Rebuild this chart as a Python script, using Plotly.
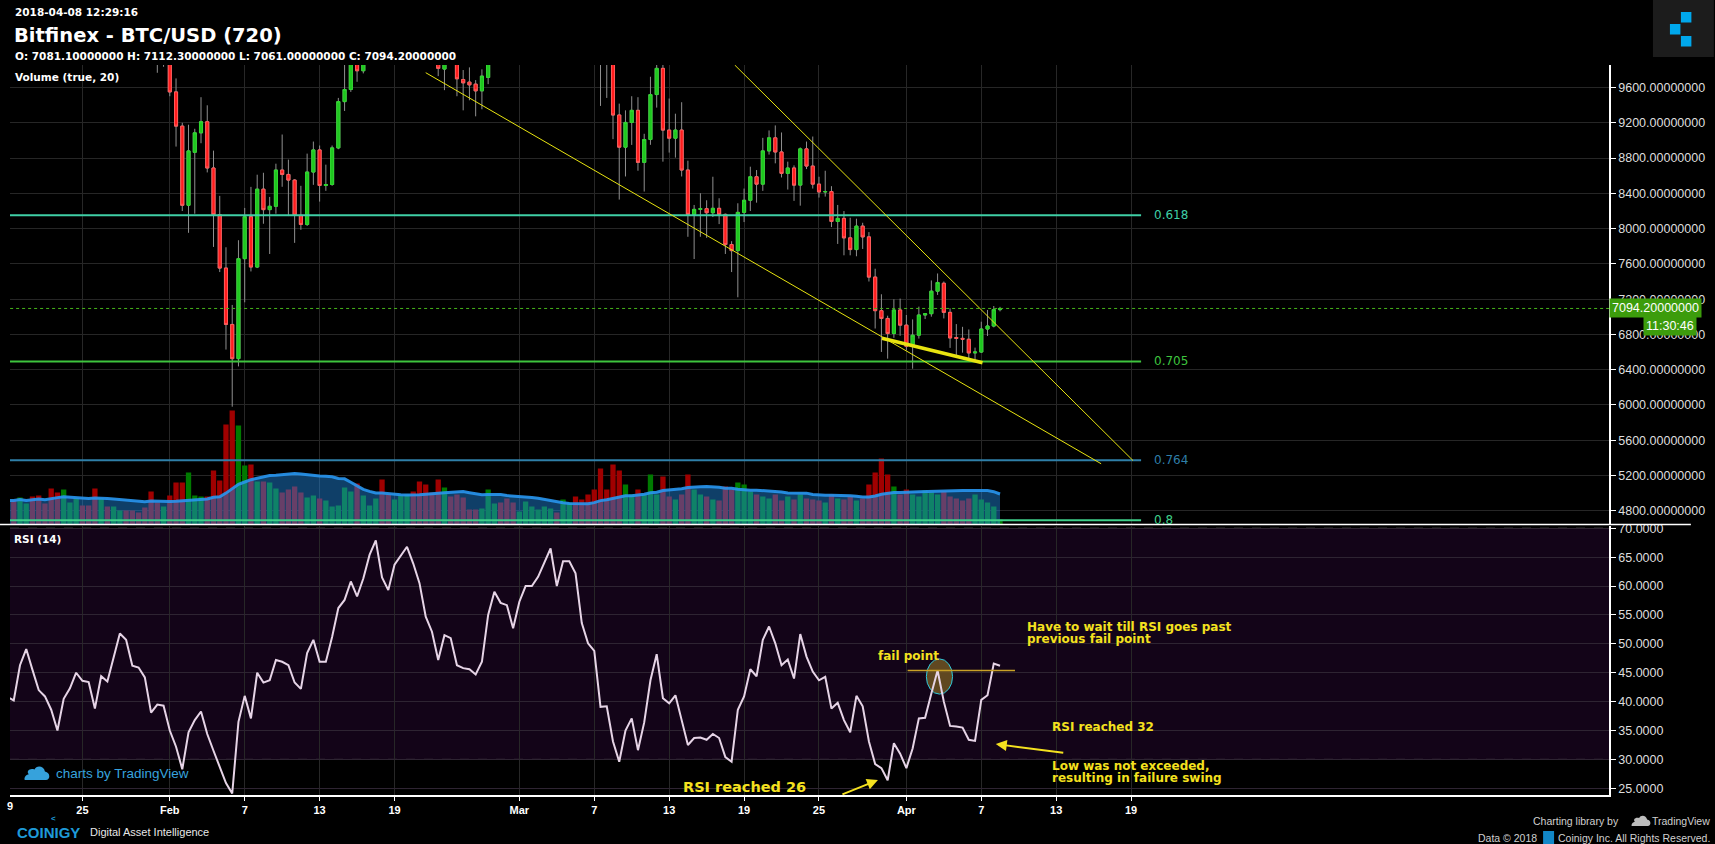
import plotly.graph_objects as go
import pandas as pd

# ------------------------------------------------------------------ data
T0 = pd.Timestamp("2018-02-01 00:00:00")   # candle index k counts 12h bars from here

candle_k = [-2, -1] + list(range(0, 32)) + [43, 44, 46, 47, 48, 49, 50, 51] + list(range(69, 134))
candle_open = [10250, 10100,
    10200, 9550, 9162, 8264, 8865, 9086, 9212, 8687, 8157, 7552,
    6913, 6525, 7659, 8135, 7564, 8447, 8215, 8253, 8664, 8614,
    8550, 8150, 8047, 8641, 8892, 8489, 8500, 8915, 9440, 9577,
    10150, 9790,
    10100, 9809, 10050, 9691, 9661, 9638, 9562, 9714,
    10300, 10100, 9900, 9288, 8923, 9204, 9341, 8751, 9010, 9520,
    9817, 9117, 9025, 9117, 8664, 8161, 8218, 8226, 8180, 8230,
    8161, 7819, 7750, 8184, 8321, 8588, 8504, 8881, 9029, 8869,
    8626, 8687, 8493, 8904, 8709, 8504, 8416, 8420, 8081, 8116,
    7895, 7762, 8028, 7906, 7450, 7069, 6981, 6810, 7077, 6905,
    6666, 6791, 7020, 7035, 7290, 7380, 7050, 6765, 6755, 6745,
    6590, 6600, 6861, 6895, 7081.1]
candle_high = [10350, 10300,
    10250, 9703, 9200, 9178, 9132, 9490, 9398, 8884, 8371, 7788,
    7134, 7868, 8234, 8473, 8611, 8633, 8359, 8736, 9067, 8782,
    8560, 8485, 8850, 8987, 8942, 8725, 8942, 9482, 9900, 10100,
    10250, 10150,
    10200, 10000, 10150, 9798, 9828, 9684, 9806, 10000,
    10500, 10200, 9950, 9417, 9341, 9501, 9490, 9075, 9722, 9860,
    9870, 9475, 9303, 9433, 8770, 8268, 8401, 8321, 8588, 8344,
    8170, 7857, 8287, 8454, 8702, 8664, 9029, 9113, 9170, 9090,
    8759, 8717, 8920, 8987, 9044, 8588, 8656, 8481, 8268, 8199,
    8123, 8112, 8066, 7960, 7545, 7255, 7012, 7198, 7206, 7020,
    6970, 7115, 7039, 7412, 7491, 7400, 7096, 6917, 6886, 6856,
    6650, 6944, 7077, 7122, 7112.3]
candle_low = [9767, 9835,
    9501, 8930, 8199, 7952, 8169, 8968, 8637, 7792, 7507, 6628,
    5980, 6437, 7164, 7514, 7552, 8055, 7712, 8169, 8474, 8142,
    7838, 7986, 8030, 8496, 8306, 8428, 8485, 8900, 9334, 9550,
    9665, 9760,
    9729, 9570, 9501, 9341, 9455, 9273, 9353, 9638,
    9391, 9482, 9014, 8329, 8591, 8949, 8656, 8420, 8950, 9372,
    8759, 8862, 8805, 8591, 7907, 7655, 7907, 7895, 8131, 8051,
    7712, 7507, 7221, 8074, 8199, 8294, 8428, 8839, 8740, 8580,
    8443, 8314, 8260, 8675, 8454, 8352, 8363, 8017, 7826, 7697,
    7697, 7686, 7769, 7400, 6867, 6601, 6525, 6761, 6784, 6620,
    6411, 6753, 6974, 7001, 7248, 6981, 6647, 6544, 6593, 6506,
    6498, 6590, 6782, 6880, 7061.0]
candle_close = [10100, 10200,
    9550, 9162, 8264, 8881, 9086, 9212, 8687, 8157, 7552, 6913,
    6525, 7659, 8135, 7564, 8447, 8215, 8253, 8664, 8614, 8550,
    8150, 8047, 8641, 8892, 8489, 8500, 8915, 9440, 9577, 10000,
    9790, 10050,
    9817, 9900, 9699, 9653, 9630, 9562, 9729, 9950,
    9950, 9900, 9288, 8923, 9204, 9341, 8751, 9010, 9520, 9817,
    9117, 9025, 9117, 8664, 8161, 8218, 8226, 8180, 8230, 8161,
    7819, 7750, 8184, 8321, 8588, 8504, 8881, 9029, 8869, 8626,
    8687, 8493, 8904, 8709, 8504, 8416, 8420, 8081, 8116, 7895,
    7762, 8028, 7906, 7450, 7069, 6981, 6810, 7077, 6905, 6666,
    6791, 7020, 7035, 7290, 7389, 7050, 6760, 6755, 6745, 6590,
    6600, 6861, 6895, 7081.1, 7094.2]

series_first_k = -26          # RSI and volume start at this bar
rsi_values = [
    40.8, 40.2, 46.3, 49.1, 45.5, 42.0, 40.9, 38.6, 35.0, 40.5,
    42.3, 45.0, 43.6, 43.4, 38.8, 44.4, 43.5, 47.9, 51.8, 50.7,
    46.2, 45.9, 44.2, 38.1, 39.5, 39.3, 35.0, 32.2, 28.3, 34.7,
    36.8, 38.3, 34.4, 31.5, 28.6, 25.9, 24.1, 36.5, 41.0, 37.1,
    45.0, 43.3, 43.7, 47.2, 46.9, 46.3, 43.3, 42.2, 48.4, 50.7,
    46.9, 46.9, 51.2, 56.2, 57.6, 60.8, 58.2, 61.3, 65.4, 67.9,
    61.5, 59.3, 63.7, 65.2, 66.8, 63.9, 60.5, 54.7, 52.1, 47.2,
    51.5, 51.0, 46.3, 45.8, 45.6, 44.7, 46.9, 55.0, 59.0, 57.1,
    56.7, 52.7, 57.3, 60.0, 60.0, 61.6, 64.2, 66.5, 60.0, 64.3,
    64.3, 62.2, 53.6, 50.1, 48.8, 39.1, 39.2, 33.1, 29.6, 35.0,
    37.1, 31.6, 36.4, 43.7, 48.2, 40.6, 39.7, 41.1, 36.8, 32.5,
    33.7, 33.8, 33.4, 34.4, 33.7, 30.4, 29.6, 38.6, 40.9, 45.6,
    44.4, 50.7, 53.0, 50.1, 46.3, 47.3, 44.0, 51.7, 47.8, 45.2,
    43.7, 44.3, 38.8, 39.8, 36.8, 34.7, 41.0, 39.2, 33.1, 29.2,
    28.5, 26.4, 32.8, 31.0, 28.5, 31.9, 37.1, 37.2, 41.4, 45.4,
    40.0, 35.8, 35.7, 35.5, 33.4, 33.2, 40.3, 41.1, 46.6, 46.2]
volume_thousands = [
    24, 24, 27, 21, 28, 29, 21, 36, 32, 35,
    22, 26, 19, 19, 36, 26, 18, 18, 14, 14,
    14, 12, 17, 33, 22, 18, 29, 42, 42, 52,
    29, 28, 28, 54, 44, 100, 114, 99, 59, 60,
    43, 43, 42, 36, 32, 35, 38, 32, 27, 29,
    26, 24, 18, 19, 37, 33, 41, 29, 19, 26,
    45, 30, 25, 29, 30, 33, 43, 40, 32, 45,
    37, 28, 30, 27, 15, 15, 16, 35, 21, 22,
    26, 22, 13, 23, 18, 15, 18, 16, 12, 25,
    22, 28, 25, 30, 35, 56, 35, 60, 54, 40,
    30, 35, 30, 50, 30, 48, 28, 25, 30, 50,
    35, 30, 28, 25, 24, 38, 35, 42, 40, 33,
    30, 28, 26, 30, 24, 28, 25, 30, 26, 25,
    24, 22, 30, 26, 25, 28, 24, 26, 40, 52,
    66, 50, 38, 30, 35, 30, 28, 34, 32, 30,
    33, 28, 26, 24, 26, 30, 25, 22, 18, 5]

fib_levels = ["0.618", "0.705", "0.764", "0.8"]
fib_prices = [8150, 6493, 5372, 4692]
fib_colors = ["#3fcfa6", "#3ec43e", "#2f7fa8", "#3fcf8a"]

trend_lines = [  # (k0, price0, k1, price1, width)
    (41.0, 9768, 149.2, 5333, 1),
    (90.5, 9855, 154.3, 5370, 1),
    (114.1, 6756, 130.2, 6479, 3.5),
]
fail_line = (118.2, 135.4, 45.4)        # k0, k1, rsi level
fail_ellipse = (121.2, 125.4, 41.3, 47.4)

price_ticks = list(range(4800, 9601, 400))
rsi_ticks = list(range(25, 71, 5))
date_ticks = ["2018-01-25", "2018-02-01", "2018-02-07", "2018-02-13", "2018-02-19",
              "2018-03-01", "2018-03-07", "2018-03-13", "2018-03-19", "2018-03-25",
              "2018-04-01", "2018-04-07", "2018-04-13", "2018-04-19"]
date_tick_text = ["25", "Feb", "7", "13", "19", "Mar", "7", "13", "19", "25",
                  "Apr", "7", "13", "19"]

# ------------------------------------------------------------------ helpers
W, H = 1715, 844
ML, MR, MT, MB = 10, 104, 65, 49
PW, PH = W - ML - MR, H - MT - MB


def xp(px):
    return (px - ML) / PW


def yp(py):
    return (H - MB - py) / PH


def kd(k):
    return T0 + pd.Timedelta(hours=12 * k)


DV = "DejaVu Sans"
LS = "Liberation Sans"
YEL = "#f4e11f"

cx = [kd(k) for k in candle_k]
series_x = [kd(series_first_k + i) for i in range(len(rsi_values))]
volumes = [v * 1000 for v in volume_thousands]
vol_ma = pd.Series(volumes).rolling(20, min_periods=1).mean()

cmap = {k: (o, c) for k, o, c in zip(candle_k, candle_open, candle_close)}
vol_colors = []
for i in range(len(volumes)):
    k = series_first_k + i
    if k in cmap:
        up = cmap[k][1] >= cmap[k][0]
    else:
        up = i > 0 and rsi_values[i] >= rsi_values[i - 1]
    vol_colors.append("#007a00" if up else "#a00000")

fig = go.Figure()

fig.add_trace(go.Bar(x=series_x, y=volumes, marker=dict(color=vol_colors, line=dict(width=0)),
                     width=0.85 * 12 * 3600 * 1000, yaxis="y", hoverinfo="skip"))
fig.add_trace(go.Scatter(x=series_x, y=vol_ma, mode="lines", fill="tozeroy",
                         fillcolor="rgba(33,140,230,0.45)",
                         line=dict(color="rgba(40,150,240,0.9)", width=3), yaxis="y",
                         hoverinfo="skip"))

wick = dict(line=dict(color="#8f8f8f", width=1), fillcolor="rgba(0,0,0,0)")
fig.add_trace(go.Candlestick(x=cx, open=candle_open, high=candle_high, low=candle_low,
                             close=candle_close, increasing=wick, decreasing=wick,
                             yaxis="y2", hoverinfo="skip"))
fig.add_trace(go.Candlestick(
    x=cx, open=candle_open, close=candle_close,
    high=[max(o, c) for o, c in zip(candle_open, candle_close)],
    low=[min(o, c) for o, c in zip(candle_open, candle_close)],
    increasing=dict(line=dict(color="#2ed82e", width=1), fillcolor="#1ec61e"),
    decreasing=dict(line=dict(color="#ff5a5a", width=1), fillcolor="#ff1c1c"),
    yaxis="y2", hoverinfo="skip"))

ann = []

# fib retracement levels
for lvl, pr, col in zip(fib_levels, fib_prices, fib_colors):
    fig.add_trace(go.Scatter(x=[kd(-40), kd(155.6)], y=[pr, pr], mode="lines",
                             line=dict(color=col, width=2), yaxis="y2", hoverinfo="skip"))
    ann.append(dict(x=kd(157.3), y=pr, xref="x", yref="y2", text=lvl, showarrow=False,
                    xanchor="left", yanchor="middle", font=dict(family=DV, size=12, color=col)))

# trend lines
for k0, p0, k1, p1, wdt in trend_lines:
    fig.add_trace(go.Scatter(x=[kd(k0), kd(k1)], y=[p0, p1], mode="lines",
                             line=dict(color="#e8e410", width=wdt), yaxis="y2", hoverinfo="skip"))

# last price dotted line
last_close = candle_close[-1]
fig.add_trace(go.Scatter(x=[kd(-40), kd(260)], y=[last_close, last_close], mode="lines",
                         line=dict(color="#46b41a", width=1, dash="dot"), yaxis="y2",
                         hoverinfo="skip"))

# RSI
fig.add_trace(go.Scatter(x=series_x, y=rsi_values, mode="lines",
                         line=dict(color="#e6d4e6", width=2), yaxis="y3", hoverinfo="skip"))
fig.add_trace(go.Scatter(x=[kd(fail_line[0]), kd(fail_line[1])], y=[fail_line[2]] * 2,
                         mode="lines", line=dict(color="#c9a227", width=1.5), yaxis="y3",
                         hoverinfo="skip"))

shapes = []
shapes.append(dict(type="rect", xref="paper", yref="y3", x0=0, x1=1, y0=30, y1=70,
                   fillcolor="#130418", line=dict(width=0), layer="below"))
for lv in (30, 70):
    shapes.append(dict(type="line", xref="paper", yref="y3", x0=0, x1=1, y0=lv, y1=lv,
                       line=dict(color="#7a7a7a", width=1, dash="dash"), layer="between"))
e = fail_ellipse
shapes.append(dict(type="circle", xref="x", yref="y3", x0=kd(e[0]), x1=kd(e[1]), y0=e[2], y1=e[3],
                   fillcolor="rgba(110,85,35,0.85)", line=dict(color="#2ec8dc", width=1),
                   layer="between"))
shapes.append(dict(type="line", xref="paper", yref="paper", x0=xp(0), x1=xp(1693),
                   y0=yp(524.5), y1=yp(524.5), line=dict(color="white", width=1.5)))
# top-right logo
shapes.append(dict(type="rect", xref="paper", yref="paper", x0=xp(1655), x1=xp(1716),
                   y0=yp(57), y1=yp(-1), fillcolor="#1c1c1c", line=dict(width=0)))
for (a, b) in [(1683, 12), (1672, 24), (1683, 36)]:
    shapes.append(dict(type="rect", xref="paper", yref="paper", x0=xp(a), x1=xp(a + 10.5),
                       y0=yp(b + 10.5), y1=yp(b), fillcolor="#00a8ec", line=dict(width=0)))
# small coinigy icon in footer
shapes.append(dict(type="rect", xref="paper", yref="paper", x0=xp(1545), x1=xp(1556),
                   y0=yp(844), y1=yp(831), fillcolor="#1287c8", line=dict(width=0)))


def cloud_path(s):
    pts = "M 0,0 L 22,0 C 27,0 27,8 21,9 C 20,15 12,16 10,11 C 5,13 1,9 4,6 C -1,5 -1,0 0,0 Z"
    out = []
    for tok in pts.split():
        if "," in tok:
            a, b = tok.split(",")
            out.append(f"{float(a) * s:.2f},{float(b) * s:.2f}")
        else:
            out.append(tok)
    return " ".join(out)


shapes.append(dict(type="path", xref="paper", yref="paper", xsizemode="pixel", ysizemode="pixel",
                   xanchor=xp(25), yanchor=yp(780), path=cloud_path(0.95), fillcolor="#36a2dc",
                   line=dict(width=0)))
shapes.append(dict(type="path", xref="paper", yref="paper", xsizemode="pixel", ysizemode="pixel",
                   xanchor=xp(1634), yanchor=yp(826), path=cloud_path(0.72), fillcolor="#bdbdbd",
                   line=dict(width=0)))


def txt(text, x, y, size, color="white", family=DV, xanchor="left", yanchor="middle"):
    ann.append(dict(text=text, x=xp(x), y=yp(y), xref="paper", yref="paper", showarrow=False,
                    xanchor=xanchor, yanchor=yanchor, font=dict(family=family, size=size, color=color)))


txt("<b>2018-04-08 12:29:16</b>", 13, 12, 10.5)
txt("<b>Bitfinex - BTC/USD (720)</b>", 12, 35, 19.5)
txt("<b>O: 7081.10000000 H: 7112.30000000 L: 7061.00000000 C: 7094.20000000</b>", 13, 56, 10.5)
txt("<b>Volume (true, 20)</b>", 13, 77, 10.5)
txt("<b>RSI (14)</b>", 12, 539, 10.5)
txt("<b>9</b>", 5, 806, 11, family=LS)

txt("<b>fail point</b>", 877, 656, 12, YEL)
txt("<b>Have to wait till RSI goes past</b>", 1026, 627, 12, YEL)
txt("<b>previous fail point</b>", 1026, 639, 12, YEL)
txt("<b>RSI reached 32</b>", 1051, 727, 12, YEL)
txt("<b>Low was not exceeded,</b>", 1051, 766, 12, YEL)
txt("<b>resulting in failure swing</b>", 1051, 778, 12, YEL)
txt("<b>RSI reached 26</b>", 682, 787, 14.5, YEL)

for hx, hy, tx, ty in [(997, 744, 1066, 753), (879, 780, 842, 795)]:
    ann.append(dict(text="", x=xp(hx), y=yp(hy), xref="paper", yref="paper", showarrow=True,
                    ax=tx - hx, ay=ty - hy, arrowhead=2, arrowsize=1.1, arrowwidth=2,
                    arrowcolor=YEL))

txt("charts by TradingView", 54, 773, 13.5, "#37a3de", family=LS)
txt("<b>COINIGY</b>", 15, 832, 15, "#1e9ad8", family=LS)
txt("<b><</b>", 49, 818, 8, "#1e9ad8", family=LS)
txt("Digital Asset Intelligence", 88, 832, 11, "#e8e8e8", family=LS)
txt("Charting library by", 1623, 821, 10.5, "#d0d0d0", family=LS, xanchor="right")
txt("TradingView", 1714, 821, 10.5, "#d0d0d0", family=LS, xanchor="right")
txt("Data © 2018", 1541, 838, 10.5, "#d0d0d0", family=LS, xanchor="right")
txt("Coinigy Inc. All Rights Reserved.", 1714, 838, 10.5, "#d0d0d0", family=LS, xanchor="right")

# price tag
ann.append(dict(text=f"{last_close:.8f}", x=1.0, y=last_close, xref="paper", yref="y2",
                showarrow=False, xanchor="left", yanchor="middle", bgcolor="#3c9c0c",
                borderpad=2, font=dict(family=LS, size=12.5, color="white")))
ann.append(dict(text="11:30:46", x=xp(1699), y=yp(325.5), xref="paper", yref="paper",
                showarrow=False, xanchor="right", yanchor="middle", bgcolor="#3c9c0c",
                borderpad=2, font=dict(family=LS, size=12.5, color="white")))

price_lo = 9600 - (524.5 - 87.5) / 0.08818
price_hi = 9600 + (87.5 - 65) / 0.08818
rsi_lo = 25 - (795 - 788.3) / 5.778
rsi_hi = 70 + (528.3 - 526) / 5.778
vol_hi = 459.5 * 1000

fig.update_layout(
    width=W, height=H, margin=dict(l=ML, r=MR, t=MT, b=MB),
    paper_bgcolor="black", plot_bgcolor="black", showlegend=False,
    boxgap=0.3,
    xaxis=dict(type="date", range=[kd((ML - 170) / 6.25), kd((ML + PW - 170) / 6.25)],
               rangeslider=dict(visible=False), anchor="y3",
               tickvals=date_ticks, ticktext=[f"<b>{t}</b>" for t in date_tick_text], tickangle=0,
               showgrid=True, gridcolor="#272727", gridwidth=1,
               showline=True, linecolor="white", linewidth=1.5,
               ticks="outside", ticklen=4, tickcolor="white",
               tickfont=dict(family=LS, size=11, color="white"), zeroline=False),
    yaxis=dict(domain=[yp(524.5), 1], range=[0, vol_hi], visible=False, showgrid=False,
               fixedrange=True),
    yaxis2=dict(domain=[yp(524.5), 1], overlaying="y", side="right", anchor="x",
                range=[price_lo, price_hi], tickvals=price_ticks,
                ticktext=[f"{v:.8f}" for v in price_ticks],
                showgrid=True, gridcolor="#262626", zeroline=False,
                showline=True, linecolor="white", linewidth=1.5,
                ticks="outside", ticklen=5, tickcolor="white",
                tickfont=dict(family=LS, size=12.5, color="#dedede")),
    yaxis3=dict(domain=[0, yp(526)], side="right", anchor="x",
                range=[rsi_lo, rsi_hi], tickvals=rsi_ticks,
                ticktext=[f"{v:.4f}" for v in rsi_ticks],
                showgrid=True, gridcolor="#2e2432", zeroline=False,
                showline=True, linecolor="white", linewidth=1.5,
                ticks="outside", ticklen=5, tickcolor="white",
                tickfont=dict(family=LS, size=12.5, color="#dedede")),
)
fig.layout.shapes = shapes
fig.layout.annotations = ann

fig.write_html("out.html", config={"displayModeBar": False})
